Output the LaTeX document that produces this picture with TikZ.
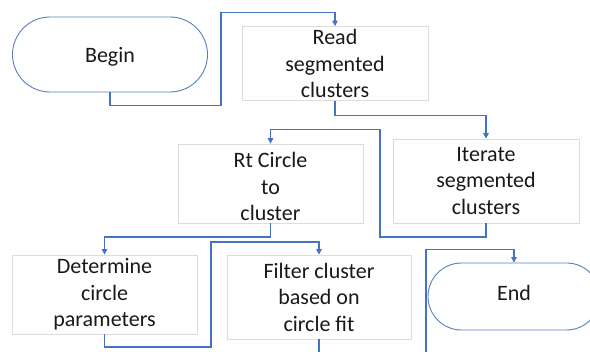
\documentclass[tikz,border=0pt]{standalone}
\usepackage{fontspec}
\setmainfont{Carlito}
\usetikzlibrary{arrows.meta,shapes.misc}
\definecolor{lnblue}{HTML}{4472C4}
\definecolor{termblue}{HTML}{5A7DBF}
\definecolor{boxgray}{HTML}{DCDCDC}
\begin{document}
\begin{tikzpicture}[x=1pt,y=-1pt,
  txt/.style={font=\fontsize{22}{26.5}\selectfont, align=center, text=black!90, inner sep=0pt},
  procbox/.style={txt, draw=boxgray, line width=0.8pt, rectangle},
  term/.style={draw=termblue, line width=0.9pt, rounded rectangle, inner sep=0pt},
  conn/.style={draw=lnblue, line width=1.4pt},
  arr/.style={conn, -{Triangle[length=5.5pt,width=5.5pt]}}]
\useasboundingbox (0,0) rectangle (590,352);
\clip (0,0) rectangle (590,352);
\fill[white] (0,0) rectangle (590,352);

\node[term, minimum width=195pt, minimum height=75pt] (begin) at (110,54.5) {};
\node[txt] (beginT) at ([yshift=-2pt]begin.center) {Begin};
\node[procbox, minimum width=186pt, minimum height=74pt] (read) at (335,63.5) {Read\\segmented\\clusters};
\node[procbox, minimum width=186pt, minimum height=84pt] (iter) at (486,181) {Iterate\\segmented\\clusters};
\node[procbox, minimum width=185pt, minimum height=79pt] (rt) at (270.5,183.5) {};
\node[txt] (rtT) at ([yshift=-3pt]rt.center) {Rt Circle\\to\\cluster};
\node[procbox, minimum width=185pt, minimum height=79pt] (det) at (104.5,294.5) {Determine\\circle\\parameters};
\node[procbox, minimum width=184pt, minimum height=84pt] (filt) at (319,297) {Filter cluster\\based on\\circle fit};
\node[term, minimum width=172pt, minimum height=67pt] (end) at (514,296.5) {};
\node[txt] (endT) at ([yshift=3.5pt]end.center) {End};

\coordinate (fbot) at (319,360);
\coordinate (ebot) at (426,360);

\draw[arr] (begin.south) -- (begin.south |- 0,105.5) -- (221,105.5) -- (221,12.5) -| (read.north);
\draw[arr] (read.south) -- (read.south |- 0,115.5) -| (iter.north);
\draw[arr] (iter.south) -- (iter.south |- 0,237) -- (380,237) -- (380,129.5) -| (rt.north);
\draw[arr] (rt.south) -- (rt.south |- 0,237) -| (det.north);
\draw[arr] (det.south) -- (det.south |- 0,347) -- (211,347) -- (211,242) -| (filt.north);
\draw[conn] (filt.south) -- (fbot);
\draw[arr] (ebot) -- (426,249.5) -| (end.north);
\end{tikzpicture}
\end{document}
